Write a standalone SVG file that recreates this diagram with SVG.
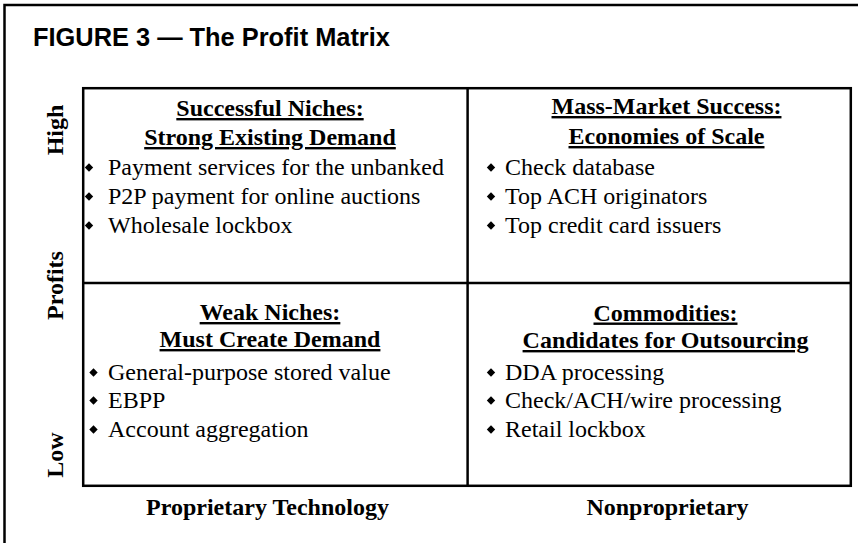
<svg xmlns="http://www.w3.org/2000/svg" width="858" height="543" viewBox="0 0 858 543">
  <style>
    .title { font-family: "Liberation Sans", Arial, sans-serif; font-weight: bold; font-size: 25.4px; fill: #000; }
    .head { font-family: "Liberation Serif", "Times New Roman", serif; font-weight: bold; font-size: 24px; fill: #000; text-anchor: middle; text-decoration: underline; }
    .item { font-family: "Liberation Serif", "Times New Roman", serif; font-size: 24px; fill: #000; }
    .axis { font-family: "Liberation Serif", "Times New Roman", serif; font-weight: bold; font-size: 24px; fill: #000; text-anchor: middle; }
    .frame { fill: none; stroke: #000; stroke-width: 2.5; }
    .grid { fill: none; stroke: #000; stroke-width: 2.5; }
  </style>
  <defs>
    <path id="dia" d="M0,-4.2 L4.2,0 L0,4.2 L-4.2,0 Z" fill="#000"/>
  </defs>
  <rect width="858" height="543" fill="#fff"/>

  <!-- outer figure frame (left and top edges) -->
  <path class="frame" d="M4.5,543 V5 H858"/>

  <text class="title" x="33" y="46">FIGURE 3 — The Profit Matrix</text>

  <!-- matrix grid -->
  <g id="connectors">
    <rect class="grid" x="83.2" y="88.2" width="767.6" height="397.6"/>
    <line class="grid" x1="467.6" y1="88.2" x2="467.6" y2="485.8"/>
    <line class="grid" x1="83.2" y1="283" x2="850.8" y2="283"/>
  </g>

  <!-- axis labels -->
  <g id="axis-profits">
    <text class="axis" transform="translate(63,130) rotate(-90)">High</text>
    <text class="axis" transform="translate(63,285.5) rotate(-90)">Profits</text>
    <text class="axis" transform="translate(63,455) rotate(-90)">Low</text>
  </g>
  <g id="axis-technology">
    <text class="axis" x="267.5" y="515">Proprietary Technology</text>
    <text class="axis" x="667.5" y="515">Nonproprietary</text>
  </g>

  <!-- quadrant: high profit, proprietary -->
  <g id="successful-niches">
    <text class="head" x="270" y="116">Successful Niches:</text>
    <text class="head" x="270" y="145">Strong Existing Demand</text>
    <use href="#dia" x="89" y="167.5"/>
    <text class="item" x="108" y="175">Payment services for the unbanked</text>
    <use href="#dia" x="89" y="196.5"/>
    <text class="item" x="108" y="204">P2P payment for online auctions</text>
    <use href="#dia" x="89" y="225.5"/>
    <text class="item" x="108" y="233">Wholesale lockbox</text>
  </g>

  <!-- quadrant: high profit, nonproprietary -->
  <g id="mass-market-success">
    <text class="head" x="666.5" y="114">Mass-Market Success:</text>
    <text class="head" x="666.5" y="144">Economies of Scale</text>
    <use href="#dia" x="491" y="167.5"/>
    <text class="item" x="505" y="175">Check database</text>
    <use href="#dia" x="491" y="196.5"/>
    <text class="item" x="505" y="204">Top ACH originators</text>
    <use href="#dia" x="491" y="225.5"/>
    <text class="item" x="505" y="233">Top credit card issuers</text>
  </g>

  <!-- quadrant: low profit, proprietary -->
  <g id="weak-niches">
    <text class="head" x="270" y="320">Weak Niches:</text>
    <text class="head" x="270" y="347">Must Create Demand</text>
    <use href="#dia" x="93.5" y="372.5"/>
    <text class="item" x="108" y="380">General-purpose stored value</text>
    <use href="#dia" x="93.5" y="400.5"/>
    <text class="item" x="108" y="408">EBPP</text>
    <use href="#dia" x="93.5" y="429.5"/>
    <text class="item" x="108" y="437">Account aggregation</text>
  </g>

  <!-- quadrant: low profit, nonproprietary -->
  <g id="commodities">
    <text class="head" x="665.5" y="320.5">Commodities:</text>
    <text class="head" x="665.5" y="348">Candidates for Outsourcing</text>
    <use href="#dia" x="491" y="372.5"/>
    <text class="item" x="505" y="380">DDA processing</text>
    <use href="#dia" x="491" y="400.5"/>
    <text class="item" x="505" y="408">Check/ACH/wire processing</text>
    <use href="#dia" x="491" y="429.5"/>
    <text class="item" x="505" y="437">Retail lockbox</text>
  </g>
</svg>
